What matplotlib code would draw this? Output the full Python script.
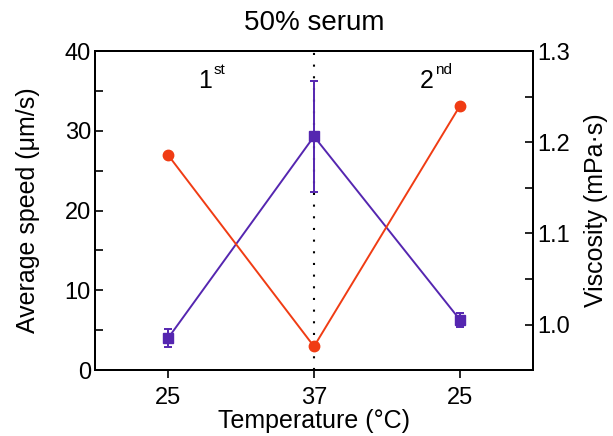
import numpy as np
import matplotlib
matplotlib.use('Agg')
import matplotlib.pyplot as plt
from matplotlib.ticker import MultipleLocator

plt.rcParams['font.family'] = ['Liberation Sans', 'DejaVu Sans']

# data
temps = ['25', '37', '25']
speed = [4.0, 29.3, 6.3]          # um/s
speed_err = [1.1, 7.0, 0.9]
viscosity = [1.186, 0.976, 1.240]  # mPa.s
runs = [('1', 'st', 0.3), ('2', 'nd', 1.82)]

purple = '#5526b0'
red = '#f03c14'

x = np.arange(len(temps))

fig = plt.figure(figsize=(6.13, 4.36), dpi=100)
ax = fig.add_axes([0.155, 0.151, 0.7145, 0.732])

ax.axvline(1, color='k', ls=(0, (1, 4.6)), lw=1.5, zorder=1)
ax.errorbar(x, speed, yerr=speed_err, color=purple, marker='s', ms=6.5,
            lw=1.4, capsize=3, elinewidth=1.4, capthick=1.4, zorder=3)
ax.set_xlim(-0.5, 2.5)
ax.set_ylim(0, 40)
ax.set_xticks(x)
ax.set_xticklabels(temps)
ax.yaxis.set_major_locator(MultipleLocator(10))
ax.yaxis.set_minor_locator(MultipleLocator(5))
ax.tick_params(axis='y', which='both', direction='in', length=6, width=1.2,
               labelsize=17, pad=3)
ax.tick_params(axis='x', direction='out', length=6, width=1.2, labelsize=17, pad=6)
ax.set_xlabel('Temperature (°C)', fontsize=18, labelpad=0)
ax.set_ylabel('Average speed (μm/s)', fontsize=18, labelpad=18)
ax.set_title('50% serum', fontsize=20, pad=15)

ax2 = ax.twinx()
ax2.plot(x, viscosity, color=red, marker='o', ms=7.5, lw=1.4, zorder=3)
ax2.set_ylim(0.95, 1.3)
ax2.yaxis.set_major_locator(MultipleLocator(0.1))
ax2.yaxis.set_minor_locator(MultipleLocator(0.05))
ax2.tick_params(axis='y', which='both', direction='in', length=6, width=1.2,
                labelsize=17, pad=3)
ax2.set_ylabel('Viscosity (mPa·s)', fontsize=18, labelpad=10)

for a in (ax, ax2):
    for s in a.spines.values():
        s.set_linewidth(1.4)

for num, sup, xp in runs:
    ax.text(xp, 36.3, num, fontsize=18, ha='right', va='center')
    ax.text(xp + 0.01, 37.6, sup, fontsize=11, ha='left', va='center')

fig.savefig('out.png', dpi=100)
